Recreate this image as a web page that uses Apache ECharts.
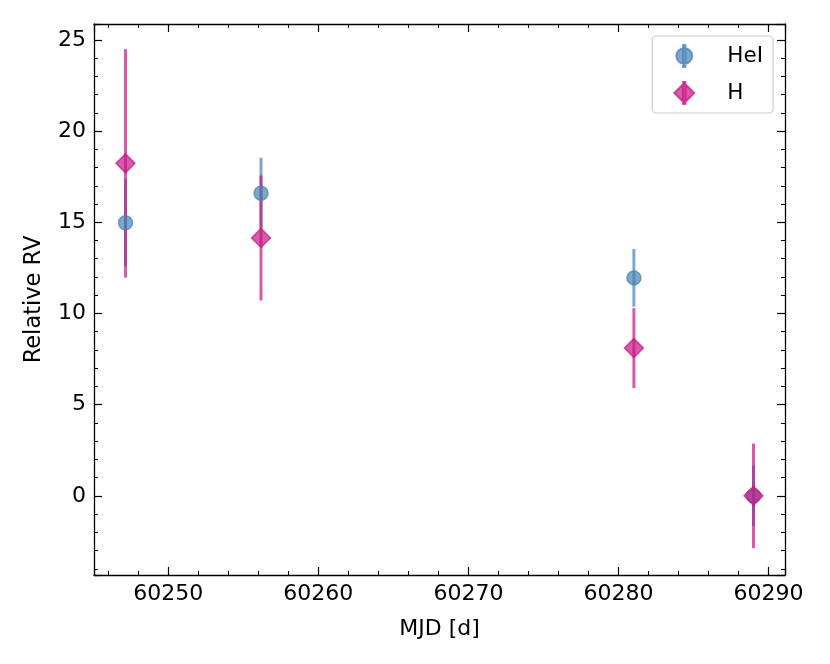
<!DOCTYPE html>
<html>
<head>
<meta charset="utf-8">
<title>Relative RV</title>
<script src="https://cdn.jsdelivr.net/npm/echarts@6/dist/echarts.min.js"></script>
<style>
	html,body{margin:0;padding:0;background:#fff;}
	#chartBox{width:830px;height:664px;}
</style>
</head>
<body>
<div id="chartBox"></div>
<script>
// 观测时间 MJD
var mjd = [60247.15, 60256.18, 60281.03, 60289.0];
// HeI 线的相对视向速度及误差
var heiRv = [14.97, 16.59, 11.95, 0];
var heiErr = [2.38, 1.95, 1.58, 1.66];
// H 线的相对视向速度及误差
var hRv = [18.23, 14.14, 8.10, 0];
var hErr = [6.26, 3.43, 2.19, 2.87];
var seriesNames = ["HeI", "H"];

this.rv = this.rv||{};
(function(){
	var RvChart = function(){
		this.init();
	};
	var p = RvChart.prototype;

	p.init = function(){
		this.font = "DejaVu Sans";
		this.blue = "rgba(70,130,180,0.7)";
		this.pink = "rgba(199,21,133,0.7)";
		this.initDom();
		this.initOption();
	};

	p.initDom = function(){
		this.chart = echarts.init(document.getElementById("chartBox"));
	};

	// 误差棒数据 [x, 下限, 上限]
	p.errData = function(vals, errs){
		var out = [];
		for(var i=0;i<mjd.length;i++){
			out.push([mjd[i], vals[i]-errs[i], vals[i]+errs[i]]);
		}
		return out;
	};

	p.pointData = function(vals){
		var out = [];
		for(var i=0;i<mjd.length;i++){
			out.push([mjd[i], vals[i]]);
		}
		return out;
	};

	p.errSeries = function(name, data, color){
		return {
			name: name,
			type: "custom",
			data: data,
			silent: true,
			renderItem: function(params, api){
				var a = api.coord([api.value(0), api.value(1)]);
				var b = api.coord([api.value(0), api.value(2)]);
				return {
					type: "line",
					shape: {x1: a[0], y1: a[1], x2: b[0], y2: b[1]},
					style: {stroke: color, lineWidth: 3}
				};
			}
		};
	};

	p.axis = function(pos, min, max, showLabel){
		var cur = this;
		return {
			type: "value",
			position: pos,
			min: min,
			max: max,
			splitNumber: 5,
			splitLine: {show: false},
			axisLine: {show: true, onZero: false, lineStyle: {color: "#000", width: 1.3}},
			axisTick: {show: true, inside: true, length: 8, lineStyle: {color: "#000", width: 1.2}},
			minorTick: {show: true, splitNumber: 5, length: 4, lineStyle: {color: "#000", width: 1}},
			axisLabel: {
				show: showLabel,
				showMinLabel: false,
				showMaxLabel: false,
				color: "#000",
				fontFamily: cur.font,
				fontSize: 22,
				margin: 8,
				// 不要千分位逗号
				formatter: function(v){ return String(v); }
			}
		};
	};

	p.initOption = function(){
		var cur = this;
		var xMin = 60245.05, xMax = 60291.1;
		var yMin = -4.34, yMax = 25.87;

		var xBottom = cur.axis("bottom", xMin, xMax, true);
		xBottom.name = "MJD [d]";
		xBottom.nameLocation = "middle";
		xBottom.nameGap = 43;
		xBottom.nameTextStyle = {color: "#000", fontFamily: cur.font, fontSize: 22};
		var xTop = cur.axis("top", xMin, xMax, false);

		var yLeft = cur.axis("left", yMin, yMax, true);
		yLeft.name = "Relative RV";
		yLeft.nameLocation = "middle";
		yLeft.nameGap = 48;
		yLeft.nameTextStyle = {color: "#000", fontFamily: cur.font, fontSize: 22.5};
		var yRight = cur.axis("right", yMin, yMax, false);

		var option = {
			animation: false,
			backgroundColor: "#fff",
			grid: {left: 94, top: 24, width: 691, height: 551, containLabel: false},
			xAxis: [xBottom, xTop],
			yAxis: [yLeft, yRight],
			legend: {
				data: [
					{name: seriesNames[0], icon: "path://M1,11a8,8 0 1,1 16,0a8,8 0 1,1 -16,0z M7.75,0h2.5v22h-2.5z"},
					{name: seriesNames[1], icon: "path://M-1,11L9,1L19,11L9,21z M7.75,0h2.5v22h-2.5z"}
				],
				orient: "vertical",
				right: 57,
				top: 36,
				itemWidth: 20,
				itemHeight: 22,
				itemGap: 13,
				padding: [8, 10, 8, 21],
				backgroundColor: "rgba(255,255,255,0.8)",
				borderColor: "#cccccc",
				borderWidth: 1.2,
				borderRadius: 4,
				textStyle: {color: "#000", fontFamily: cur.font, fontSize: 21.5, padding: [0, 0, 0, 28]}
			},
			series: [
				cur.errSeries("HeI err", cur.errData(heiRv, heiErr), cur.blue),
				{
					name: seriesNames[0],
					type: "scatter",
					data: cur.pointData(heiRv),
					symbol: "circle",
					symbolSize: 14,
					itemStyle: {color: cur.blue, borderColor: cur.blue, borderWidth: 1.5, opacity: 1}
				},
				cur.errSeries("H err", cur.errData(hRv, hErr), cur.pink),
				{
					name: seriesNames[1],
					type: "scatter",
					data: cur.pointData(hRv),
					symbol: "diamond",
					symbolSize: 19,
					itemStyle: {color: cur.pink, borderColor: cur.pink, borderWidth: 1.5, opacity: 1}
				}
			]
		};
		cur.chart.setOption(option);
	};

	rv.RvChart = RvChart;
})();

new rv.RvChart();
</script>
</body>
</html>
